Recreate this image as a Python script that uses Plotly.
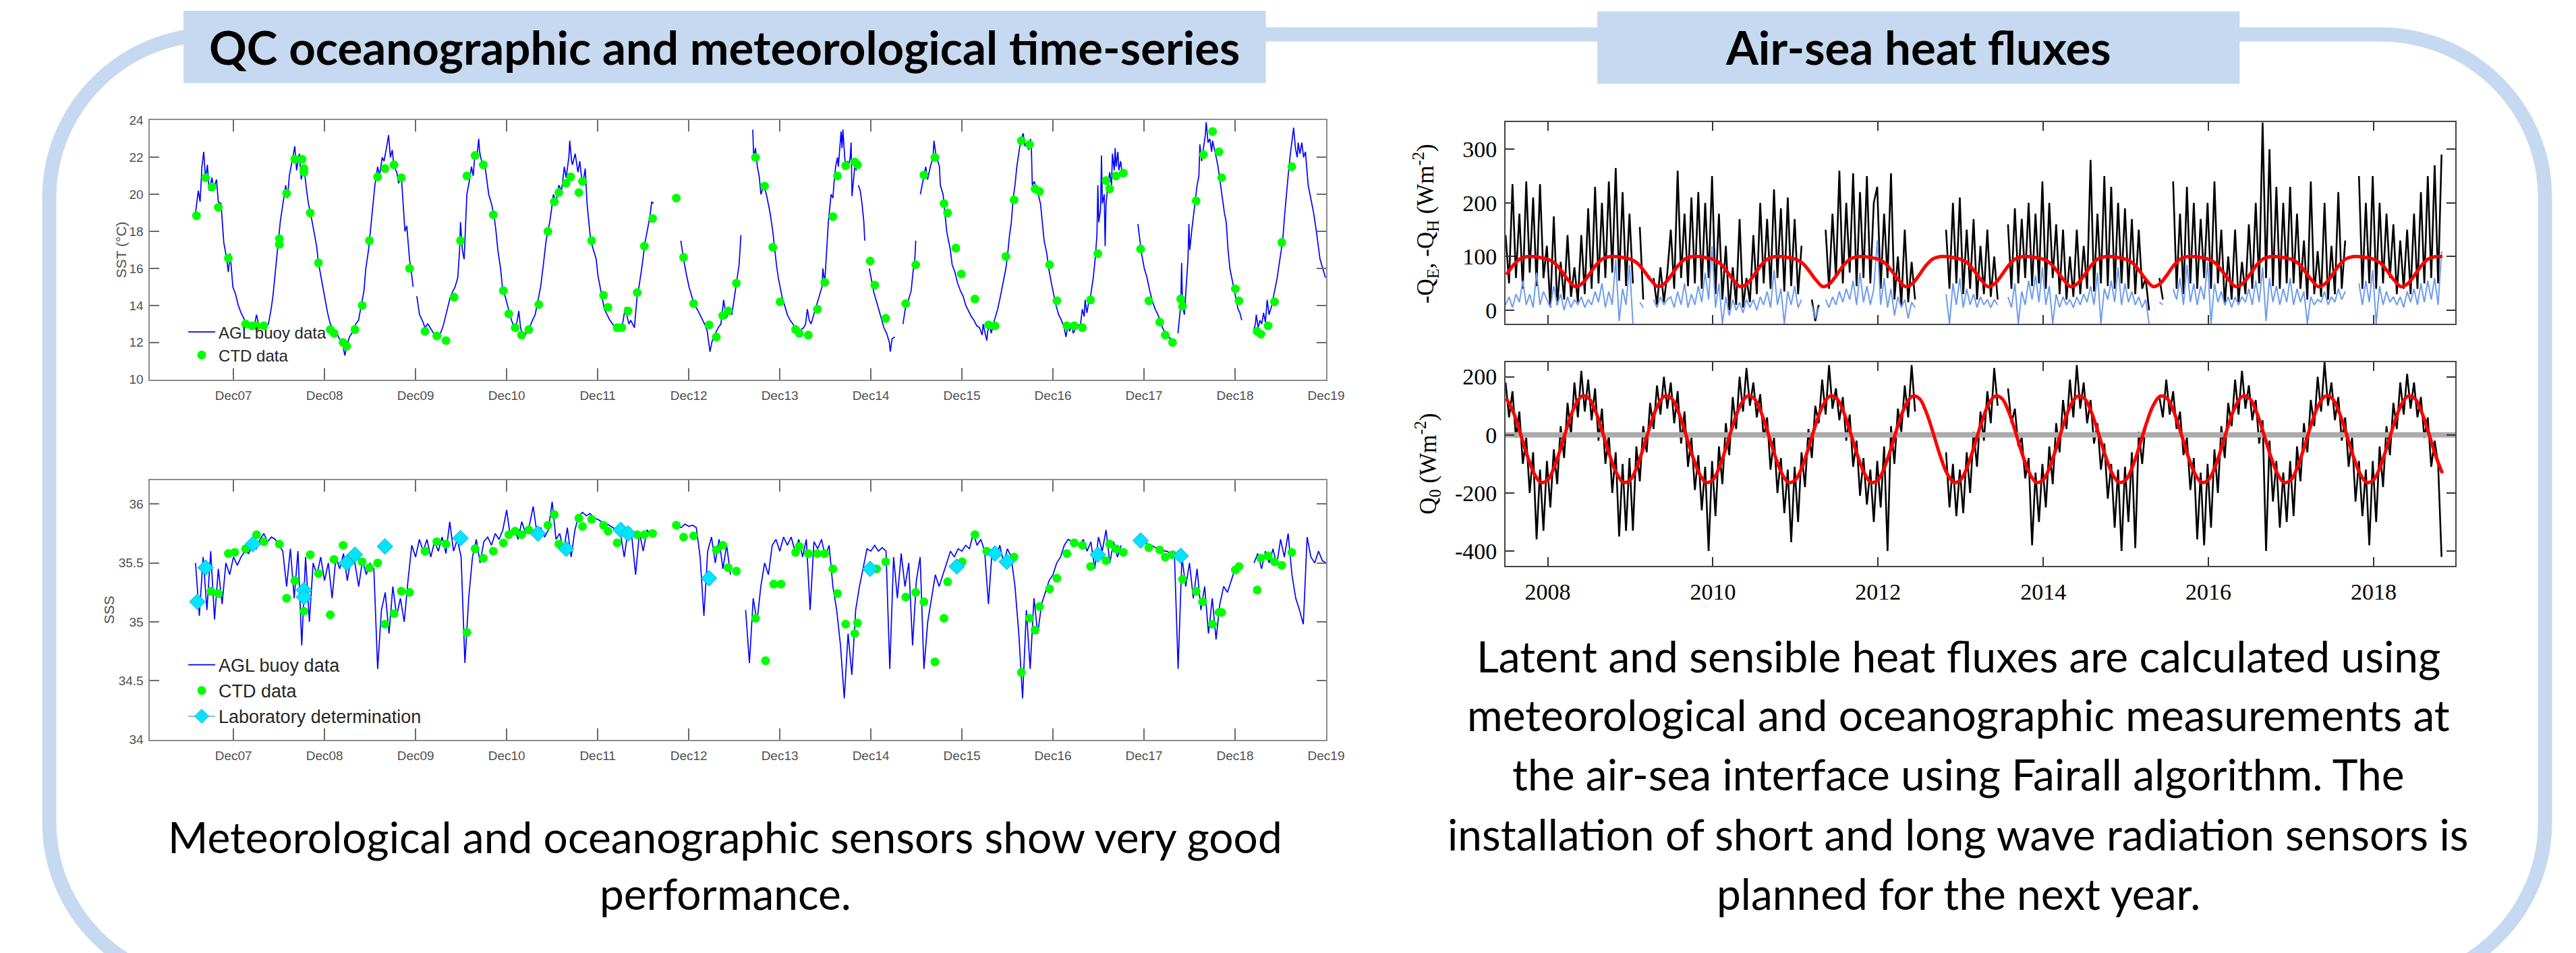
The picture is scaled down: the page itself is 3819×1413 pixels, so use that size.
import plotly.graph_objects as go

W, H = 3819, 1413

# ------------------------------------------------------------------ tick labels
DEC_TICKS = [2007.917, 2008.917, 2009.917, 2010.917, 2011.917, 2012.917, 2013.917,
             2014.917, 2015.917, 2016.917, 2017.917, 2018.917, 2019.917]
DEC_LABELS = ["Dec07", "Dec08", "Dec09", "Dec10", "Dec11", "Dec12", "Dec13",
              "Dec14", "Dec15", "Dec16", "Dec17", "Dec18", "Dec19"]
SST_TICKS = [10, 12, 14, 16, 18, 20, 22, 24]
SSS_TICKS = [34, 34.5, 35, 35.5, 36]
SSS_TICK_TEXT = ["34", "34.5", "35", "35.5", "36"]
YEAR_TICKS = [2008, 2010, 2012, 2014, 2016, 2018]
FLUX_TICKS = [0, 100, 200, 300]
Q0_TICKS = [-400, -200, 0, 200]

# ------------------------------------------------------------------ SST (decimal year, degC)
SST_BUOY = [
    (2007.50, 19.0), (2007.53, 20.2), (2007.55, 19.6), (2007.57, 21.5), (2007.59, 22.3), (2007.61, 20.8),
    (2007.63, 21.6), (2007.65, 20.2), (2007.68, 20.9), (2007.70, 20.3), (2007.73, 20.8), (2007.75, 19.6),
    (2007.78, 19.5), (2007.81, 17.4), (2007.84, 16.6), (2007.86, 15.8), (2007.88, 16.8), (2007.91, 15.0),
    (2007.94, 14.6), (2007.97, 14.0), (2008.00, 13.6), (2008.04, 13.2), (2008.07, 13.0), (2008.10, 12.9),
    (2008.14, 12.8), (2008.17, 13.5), (2008.20, 12.8), (2008.23, 12.9), (2008.27, 12.8), (2008.30, 13.0),
    (2008.33, 13.8), (2008.35, 14.5), (2008.38, 16.0), (2008.40, 17.0), (2008.43, 18.5), (2008.46, 19.5),
    (2008.49, 20.5), (2008.51, 19.8), (2008.53, 21.0), (2008.56, 21.8), (2008.59, 22.6), (2008.61, 21.3),
    (2008.64, 22.2), (2008.66, 20.8), (2008.69, 21.5), (2008.72, 20.2), (2008.74, 19.5), (2008.77, 18.8),
    (2008.80, 18.0), (2008.83, 17.2), (2008.85, 16.3), (2008.88, 15.5), (2008.92, 14.3), (2008.95, 13.6),
    (2008.98, 13.0), (2009.01, 12.8), (2009.05, 12.5), (2009.08, 12.2), (2009.11, 12.0), (2009.14, 11.3),
    (2009.16, 11.8), (2009.19, 12.3), (2009.23, 12.6), (2009.26, 13.0), (2009.29, 13.2), (2009.32, 14.0),
    (2009.35, 14.8), (2009.37, 16.0), (2009.40, 17.0), (2009.42, 18.0), (2009.45, 19.5), (2009.47, 20.5),
    (2009.50, 21.5), (2009.52, 21.0), (2009.55, 22.0), (2009.57, 21.8), (2009.60, 22.6), (2009.62, 23.2),
    (2009.64, 22.0), (2009.66, 22.4), (2009.68, 21.5), (2009.71, 21.2), (2009.73, 20.6), (2009.76, 21.0),
    (2009.78, 19.5), (2009.80, 18.0), (2009.82, 18.3), (2009.85, 16.5), (2009.87, 15.8), (2009.89, 15.0),
    (None, None),
    (2009.93, 14.5), (2009.96, 13.5), (2009.99, 13.2), (2010.02, 12.8), (2010.05, 13.0), (2010.09, 12.7),
    (2010.12, 12.5), (2010.14, 12.3), (2010.17, 12.4), (2010.19, 12.5), (2010.22, 12.9), (2010.25, 13.5),
    (2010.28, 14.0), (2010.30, 14.5), (2010.33, 14.8), (2010.35, 15.0), (2010.38, 15.5), (2010.40, 17.0),
    (2010.41, 18.5), (2010.43, 17.0), (2010.45, 16.5), (2010.47, 18.5), (2010.48, 20.0), (2010.51, 20.8),
    (2010.53, 21.5), (2010.55, 21.0), (2010.57, 22.3), (2010.59, 22.0), (2010.61, 23.0), (2010.62, 22.3),
    (2010.65, 21.6), (2010.68, 21.5), (2010.70, 20.8), (2010.72, 20.0), (2010.75, 19.5), (2010.78, 18.8),
    (2010.80, 18.0), (2010.82, 17.0), (2010.85, 16.0), (2010.87, 15.0), (2010.90, 14.5), (2010.94, 13.8),
    (2010.97, 13.2), (2011.00, 12.8), (2011.03, 13.1), (2011.05, 13.7), (2011.07, 12.8), (2011.10, 12.2),
    (2011.13, 12.5), (2011.16, 12.7), (2011.20, 13.2), (2011.23, 13.5), (2011.26, 14.2), (2011.29, 15.0),
    (2011.32, 16.2), (2011.35, 17.5), (2011.37, 18.0), (2011.39, 18.5), (2011.41, 19.2), (2011.43, 20.0),
    (2011.46, 19.6), (2011.49, 20.5), (2011.52, 20.2), (2011.55, 21.5), (2011.57, 20.9), (2011.60, 22.0),
    (2011.61, 22.9), (2011.63, 21.8), (2011.64, 21.6), (2011.67, 22.2), (2011.70, 21.2), (2011.72, 21.8),
    (2011.74, 20.9), (2011.76, 20.8), (2011.78, 21.4), (2011.80, 19.5), (2011.82, 18.5), (2011.84, 17.5),
    (2011.87, 17.0), (2011.90, 16.5), (2011.92, 15.6), (2011.95, 14.8), (2011.99, 13.8), (2012.02, 13.5),
    (2012.05, 13.2), (2012.08, 13.0), (2012.11, 12.8), (2012.14, 12.7), (2012.16, 12.8), (2012.19, 13.0),
    (2012.22, 13.9), (2012.24, 13.4), (2012.26, 13.0), (2012.28, 13.2), (2012.30, 13.0), (2012.32, 12.8),
    (2012.35, 14.5), (2012.37, 15.0), (2012.40, 16.0), (2012.42, 16.8), (2012.44, 17.5), (2012.46, 18.0),
    (2012.49, 18.8), (2012.51, 19.6), (2012.53, 19.5),
    (None, None),
    (2012.83, 17.5), (2012.86, 16.5), (2012.89, 15.7), (2012.92, 15.0), (2012.95, 14.5), (2012.98, 14.0),
    (2013.01, 13.8), (2013.04, 13.5), (2013.07, 13.2), (2013.10, 12.9), (2013.12, 12.6), (2013.15, 11.5),
    (2013.17, 12.0), (2013.19, 12.3), (2013.21, 12.5), (2013.24, 12.8), (2013.27, 13.0), (2013.30, 14.3),
    (2013.33, 13.3), (2013.36, 13.8), (2013.39, 13.5), (2013.42, 14.5), (2013.45, 15.5), (2013.47, 16.2),
    (2013.49, 17.8),
    (None, None),
    (2013.62, 23.5), (2013.63, 22.0), (2013.65, 22.5), (2013.67, 21.5), (2013.69, 21.0), (2013.71, 20.0),
    (2013.74, 20.5), (2013.77, 20.0), (2013.79, 19.5), (2013.81, 19.0), (2013.84, 18.0), (2013.86, 17.0),
    (2013.88, 16.2), (2013.90, 15.5), (2013.92, 15.0), (2013.94, 14.5), (2013.97, 14.0), (2014.00, 13.5),
    (2014.03, 13.2), (2014.06, 13.0), (2014.09, 12.8), (2014.12, 12.5), (2014.15, 12.7), (2014.18, 12.8),
    (2014.20, 13.0), (2014.22, 13.8), (2014.24, 13.2), (2014.26, 13.0), (2014.29, 13.5), (2014.32, 14.0),
    (2014.35, 14.5), (2014.38, 15.0), (2014.39, 16.0), (2014.41, 15.2), (2014.42, 16.0), (2014.44, 17.5),
    (2014.45, 18.5), (2014.47, 19.5), (2014.48, 20.0), (2014.50, 19.8), (2014.51, 20.5), (2014.53, 21.5),
    (2014.55, 22.0), (2014.56, 21.5), (2014.58, 23.0), (2014.59, 23.4), (2014.60, 22.5), (2014.61, 23.5),
    (2014.63, 22.0), (2014.64, 21.5), (2014.66, 21.8), (2014.67, 21.5), (2014.69, 22.0), (2014.70, 22.8),
    (2014.71, 19.9), (2014.73, 21.0), (2014.74, 21.5), (2014.76, 21.3),
    (None, None),
    (2014.78, 20.5), (2014.80, 20.2), (2014.82, 19.5), (2014.84, 18.5), (2014.85, 17.5),
    (None, None),
    (2014.90, 16.0), (2014.93, 15.2), (2014.95, 14.7), (2014.98, 14.2), (2015.01, 13.7), (2015.04, 13.2),
    (2015.06, 12.8), (2015.09, 12.5), (2015.12, 12.0), (2015.13, 11.5), (2015.15, 12.2), (2015.18, 12.3),
    (None, None),
    (2015.27, 13.0), (2015.30, 14.0), (2015.33, 14.3), (2015.36, 14.8), (2015.38, 15.8), (2015.40, 16.5),
    (2015.41, 17.5),
    (None, None),
    (2015.46, 20.0), (2015.48, 20.5), (2015.50, 21.0), (2015.52, 21.5), (2015.54, 20.8), (2015.57, 21.5),
    (2015.60, 22.0), (2015.61, 22.9), (2015.63, 22.2), (2015.65, 21.8), (2015.67, 21.5), (2015.68, 20.5),
    (2015.71, 20.0), (2015.73, 19.0), (2015.75, 18.0), (2015.77, 17.5), (2015.79, 17.0), (2015.81, 16.2),
    (2015.84, 15.8), (2015.87, 15.2), (2015.90, 14.8), (2015.93, 14.5), (2015.96, 14.0), (2015.99, 13.7),
    (2016.02, 13.4), (2016.05, 13.2), (2016.08, 12.9), (2016.11, 12.8), (2016.14, 12.4), (2016.15, 13.0),
    (2016.17, 12.5), (2016.19, 12.1), (2016.20, 12.6), (2016.22, 12.9), (2016.24, 12.5), (2016.26, 13.0),
    (2016.28, 13.3), (2016.31, 13.8), (2016.34, 14.5), (2016.37, 15.2), (2016.40, 16.0), (2016.42, 16.8),
    (2016.44, 17.8), (2016.46, 18.5), (2016.48, 19.8), (2016.50, 20.5), (2016.52, 21.5), (2016.55, 22.5),
    (2016.57, 23.0), (2016.59, 23.3), (2016.61, 22.6), (2016.63, 22.8), (2016.65, 22.4), (2016.67, 23.0),
    (2016.68, 22.5), (2016.69, 20.5), (2016.71, 20.7), (2016.74, 20.3), (2016.76, 19.9), (2016.78, 19.5),
    (2016.80, 18.5), (2016.82, 17.5), (2016.85, 16.8), (2016.87, 16.0), (2016.90, 15.2), (2016.93, 14.5),
    (2016.95, 14.0), (2016.98, 13.5), (2017.01, 13.2), (2017.04, 12.8), (2017.06, 12.3), (2017.08, 12.9),
    (2017.10, 12.6), (2017.12, 13.0), (2017.14, 12.5), (2017.16, 12.7), (2017.19, 12.9), (2017.22, 13.0),
    (2017.24, 13.8), (2017.26, 13.4), (2017.27, 14.3), (2017.29, 13.6), (2017.31, 14.2), (2017.33, 14.5),
    (2017.36, 15.5), (2017.38, 16.5), (2017.40, 17.8), (2017.41, 20.5), (2017.42, 18.5), (2017.44, 19.2),
    (2017.45, 22.1), (2017.46, 19.5), (2017.48, 20.0), (2017.49, 17.2), (2017.50, 19.5), (2017.52, 20.5),
    (2017.54, 21.2), (2017.56, 20.5), (2017.57, 22.2), (2017.59, 21.3), (2017.60, 22.5), (2017.61, 21.5),
    (2017.63, 22.3), (2017.64, 21.3), (2017.66, 21.8), (2017.68, 21.0), (2017.70, 21.2),
    (None, None),
    (2017.85, 18.4), (2017.87, 17.5), (2017.89, 16.8), (2017.92, 16.0), (2017.95, 15.5), (2017.98, 14.8),
    (2018.01, 14.2), (2018.04, 13.8), (2018.07, 13.5), (2018.10, 13.1), (2018.12, 12.8), (2018.15, 12.5),
    (2018.18, 12.3), (2018.21, 12.2),
    (None, None),
    (2018.29, 12.5), (2018.31, 13.5), (2018.32, 14.0), (2018.33, 16.3), (2018.34, 14.0), (2018.36, 13.5),
    (2018.38, 15.0), (2018.40, 16.5), (2018.41, 18.4), (2018.42, 17.0), (2018.44, 18.0), (2018.46, 18.8),
    (2018.48, 19.5), (2018.50, 20.5), (2018.52, 21.0), (2018.53, 22.7), (2018.55, 21.8), (2018.57, 22.5),
    (2018.59, 23.2), (2018.60, 23.9), (2018.62, 22.8), (2018.64, 23.0), (2018.66, 22.3), (2018.67, 22.9),
    (2018.69, 22.5), (2018.71, 22.0), (2018.73, 21.5), (2018.75, 20.8), (2018.78, 19.8), (2018.80, 19.0),
    (2018.82, 18.5), (2018.84, 17.0), (2018.86, 16.0), (2018.88, 15.5), (2018.91, 14.8), (2018.93, 14.3),
    (2018.95, 13.8), (2018.97, 13.6), (2018.99, 13.2),
    (None, None),
    (2019.12, 12.6), (2019.14, 13.0), (2019.15, 13.5), (2019.17, 12.8), (2019.19, 13.2), (2019.21, 13.0),
    (2019.23, 13.6), (2019.25, 13.1), (2019.27, 14.3), (2019.29, 13.5), (2019.32, 14.0), (2019.35, 14.8),
    (2019.38, 15.5), (2019.40, 16.2), (2019.42, 16.8), (2019.44, 17.5), (2019.46, 18.8), (2019.48, 20.0),
    (2019.50, 21.0), (2019.52, 22.0), (2019.54, 22.8), (2019.56, 23.6), (2019.58, 22.5), (2019.60, 22.0),
    (2019.61, 22.8), (2019.63, 22.2), (2019.65, 22.8), (2019.67, 22.0), (2019.69, 22.3), (2019.71, 21.2),
    (2019.72, 20.5), (2019.74, 20.0), (2019.76, 19.5), (2019.78, 19.0), (2019.81, 18.0), (2019.83, 17.3),
    (2019.85, 16.5), (2019.88, 16.0), (2019.91, 15.5),
]

SST_CTD = [
    (2007.51, 18.85), (2007.61, 20.9), (2007.68, 20.4), (2007.75, 19.3), (2007.86, 16.55), (2008.05, 13.0),
    (2008.12, 12.9), (2008.17, 12.9), (2008.25, 12.9), (2008.42, 17.6), (2008.42, 17.3), (2008.50, 20.05),
    (2008.59, 21.9), (2008.67, 21.9), (2008.69, 21.4), (2008.69, 21.2), (2008.76, 19.0), (2008.85, 16.3),
    (2008.98, 12.7), (2009.02, 12.5), (2009.12, 12.0), (2009.16, 11.8), (2009.25, 12.7), (2009.33, 14.0),
    (2009.41, 17.5), (2009.50, 20.95), (2009.58, 21.4), (2009.68, 21.6), (2009.76, 20.9), (2009.85, 16.0),
    (2010.02, 12.6), (2010.15, 12.35), (2010.25, 12.1), (2010.34, 14.45), (2010.41, 17.5), (2010.48, 21.0),
    (2010.57, 22.1), (2010.66, 21.6), (2010.77, 18.9), (2010.88, 14.8), (2010.94, 13.55), (2011.01, 12.8),
    (2011.08, 12.4), (2011.16, 12.7), (2011.27, 14.05), (2011.37, 18.0), (2011.44, 19.6), (2011.49, 20.1),
    (2011.57, 20.6), (2011.62, 20.95), (2011.71, 20.1), (2011.75, 20.7), (2011.85, 17.5), (2011.98, 14.55),
    (2012.03, 13.9), (2012.13, 12.8), (2012.18, 12.8), (2012.25, 13.7), (2012.35, 14.7), (2012.43, 17.2),
    (2012.52, 18.7), (2012.78, 19.8), (2012.86, 16.6), (2012.97, 14.1), (2013.14, 12.95), (2013.22, 12.3),
    (2013.29, 13.45), (2013.35, 13.7), (2013.44, 15.2), (2013.65, 22.0), (2013.75, 20.45), (2013.84, 17.15),
    (2013.92, 14.2), (2014.09, 12.7), (2014.13, 12.5), (2014.23, 12.4), (2014.33, 13.8), (2014.41, 15.25),
    (2014.50, 18.8), (2014.55, 21.0), (2014.64, 21.55), (2014.74, 21.75), (2014.77, 21.6), (2014.91, 16.4),
    (2014.96, 15.1), (2015.08, 13.3), (2015.30, 14.1), (2015.41, 16.2), (2015.50, 21.05), (2015.62, 22.0),
    (2015.72, 19.5), (2015.76, 19.0), (2015.85, 17.1), (2015.91, 15.7), (2016.06, 14.35), (2016.21, 12.95),
    (2016.28, 12.9), (2016.40, 16.65), (2016.49, 19.7), (2016.57, 22.9), (2016.66, 22.7), (2016.72, 20.3),
    (2016.77, 20.15), (2016.88, 16.2), (2016.96, 14.25), (2017.07, 12.9), (2017.15, 12.9), (2017.24, 12.8),
    (2017.33, 14.3), (2017.41, 16.8), (2017.50, 20.75), (2017.54, 20.3), (2017.61, 21.0), (2017.69, 21.15),
    (2017.88, 17.05), (2017.97, 14.25), (2018.09, 13.1), (2018.15, 12.4), (2018.23, 12.0), (2018.32, 14.35),
    (2018.34, 13.95), (2018.49, 19.65), (2018.57, 22.15), (2018.67, 23.4), (2018.74, 22.3), (2018.77, 20.9),
    (2018.92, 14.9), (2018.96, 14.25), (2019.16, 12.6), (2019.20, 12.45), (2019.28, 12.9), (2019.35, 14.2),
    (2019.43, 17.4), (2019.54, 21.5),
]

# ------------------------------------------------------------------ SSS
SSS_BUOY_START = 2007.50          # one reading every half month
SSS_BUOY = [
    35.50, 35.05, 35.55, 35.10, 35.60, 35.02, 35.45, 35.15, 35.50, 35.40, 35.55, 35.48,
    35.55, 35.60, 35.58, 35.65, 35.62, 35.70, 35.75, 35.68, 35.72, 35.70, 35.65, 35.60,
    35.30, 35.62, 35.20, 35.60, 34.80, 35.55, 35.00, 35.50, 35.40, 35.55, 35.35, 35.50,
    35.20, 35.55, 35.45, 35.58, 35.35, 35.55, 35.50, 35.30, 35.52, 35.40, 35.50, 35.45,
    34.60, 35.10, 35.25, 34.90, 35.30, 35.05, 35.20, 35.00, 35.35, 35.65, 35.55, 35.70,
    35.60, 35.70, 35.55, 35.68, 35.60, 35.72, 35.58, 35.85, 35.60, 35.70, 35.55, 34.65,
    35.20, 35.55, 35.70, 35.50, 35.68, 35.72, 35.65, 35.75, 35.70, 35.78, 35.95, 35.72,
    35.80, 35.70, 35.85, 35.75, 35.82, 35.98, 35.75, 35.80, 35.72, 35.78, 36.02, 35.70,
    35.75, 35.60, 35.80, 35.55, 35.78, 35.90, 35.93, 35.90, 35.92, 35.88, 35.87, 35.85,
    35.84, 35.82, 35.80, 35.78, 35.75, 35.55, 35.78, 35.72, 35.40, 35.76, 35.60, 35.78,
    35.74, None, None, None, None, None, None, 35.82, 35.80, 35.83, 35.81, 35.82,
    35.80, 35.55, 35.05, 35.60, 35.72, 35.50, 35.70, 35.45, 35.65, 35.40, None, None,
    None, 35.10, 34.65, 35.20, 35.00, 35.30, 35.50, 35.40, 35.65, 35.70, 35.60, 35.72,
    35.65, 35.72, 35.60, 35.70, 35.55, 35.70, 35.10, 35.68, 35.62, 35.70, 35.55, 35.65,
    35.30, 35.10, 34.80, 34.35, 34.90, 34.55, 35.10, 35.30, 35.45, 35.62, 35.60, 35.65,
    35.60, 35.63, 35.60, 34.60, 35.55, 35.20, 35.58, 35.30, 35.50, 34.80, 35.35, 35.55,
    34.60, 35.00, 35.20, 35.40, 35.30, 35.40, 35.50, 35.60, 35.55, 35.62, 35.60, 35.65,
    35.62, 35.75, 35.65, 35.70, 35.60, 35.15, 35.62, 35.55, 35.65, 35.50, 35.62, 35.55,
    35.30, 34.90, 34.35, 35.10, 34.60, 35.20, 34.90, 35.15, 35.25, 35.35, 35.40, 35.50,
    35.55, 35.65, 35.70, 35.68, 35.70, 35.65, 35.70, 35.60, 35.68, 35.45, 35.72, 35.60,
    35.78, 35.50, 35.68, 35.55, 35.65, None, None, None, 35.72, 35.70, 35.68, 35.66,
    35.65, 35.63, 35.62, 35.60, 35.60, 35.58, 35.60, 34.60, 35.55, 35.30, 35.50, 35.20,
    35.45, 35.10, 35.30, 34.90, 35.20, 34.85, 35.15, 35.30, 35.25, 35.35, 35.45, 35.50,
    None, None, None, 35.50, 35.58, 35.45, 35.60, 35.50, 35.62, 35.48, 35.70, 35.55,
    35.75, 35.40, 35.20, 35.10, 34.98, 35.72, 35.55, 35.50, 35.60, 35.52, 35.50,
]

SSS_CTD = [
    (2007.67, 35.26), (2007.75, 35.24), (2007.86, 35.58), (2007.93, 35.59), (2008.05, 35.62), (2008.17, 35.74),
    (2008.25, 35.68), (2008.42, 35.66), (2008.50, 35.20), (2008.59, 35.35), (2008.69, 35.09), (2008.76, 35.57),
    (2008.85, 35.41), (2008.98, 35.06), (2009.02, 35.53), (2009.12, 35.65), (2009.33, 35.51), (2009.41, 35.46),
    (2009.50, 35.50), (2009.58, 34.98), (2009.68, 35.07), (2009.76, 35.26), (2009.85, 35.25), (2010.02, 35.60),
    (2010.15, 35.68), (2010.25, 35.66), (2010.48, 34.91), (2010.57, 35.62), (2010.66, 35.54), (2010.77, 35.60),
    (2010.88, 35.67), (2010.94, 35.74), (2011.01, 35.77), (2011.08, 35.74), (2011.16, 35.78), (2011.37, 35.82),
    (2011.44, 35.91), (2011.49, 35.66), (2011.71, 35.88), (2011.75, 35.81), (2011.85, 35.87), (2011.98, 35.82),
    (2012.03, 35.77), (2012.13, 35.67), (2012.35, 35.74), (2012.43, 35.74), (2012.52, 35.75), (2012.78, 35.82),
    (2012.86, 35.72), (2012.97, 35.73), (2013.22, 35.61), (2013.29, 35.65), (2013.35, 35.46), (2013.44, 35.43),
    (2013.65, 35.03), (2013.76, 34.67), (2013.85, 35.32), (2013.93, 35.32), (2014.09, 35.59), (2014.13, 35.64),
    (2014.23, 35.58), (2014.33, 35.58), (2014.41, 35.58), (2014.50, 35.45), (2014.55, 35.24), (2014.64, 34.98),
    (2014.74, 34.90), (2014.77, 34.99), (2014.98, 35.45), (2015.08, 35.51), (2015.30, 35.21), (2015.41, 35.25),
    (2015.50, 35.17), (2015.62, 34.66), (2015.72, 35.03), (2015.76, 35.34), (2015.92, 35.51), (2016.06, 35.74),
    (2016.19, 35.60), (2016.49, 35.55), (2016.57, 34.57), (2016.66, 35.03), (2016.72, 34.93), (2016.77, 35.13),
    (2016.88, 35.28), (2016.96, 35.37), (2017.07, 35.58), (2017.15, 35.67), (2017.24, 35.65), (2017.33, 35.47),
    (2017.50, 35.52), (2017.54, 35.66), (2017.61, 35.62), (2017.69, 35.59), (2017.97, 35.63), (2018.09, 35.61),
    (2018.15, 35.55), (2018.23, 35.57), (2018.34, 35.36), (2018.49, 35.26), (2018.56, 35.17), (2018.67, 34.98),
    (2018.74, 35.08), (2018.77, 35.08), (2018.92, 35.44), (2018.96, 35.47), (2019.16, 35.27), (2019.20, 35.54),
    (2019.28, 35.56), (2019.35, 35.51), (2019.43, 35.48), (2019.54, 35.59),
]

SSS_LAB = [
    (2007.52, 35.17), (2007.61, 35.46), (2008.13, 35.66), (2008.69, 35.27), (2008.69, 35.21), (2009.16, 35.50),
    (2009.25, 35.57), (2009.58, 35.64), (2010.41, 35.71), (2011.26, 35.75), (2011.57, 35.62), (2012.17, 35.78),
    (2012.25, 35.75), (2013.14, 35.37), (2014.91, 35.45), (2015.86, 35.47), (2016.28, 35.58), (2016.41, 35.51),
    (2017.41, 35.57), (2017.88, 35.69), (2018.32, 35.56),
]

# ------------------------------------------------------------------ heat fluxes (W m-2), half-monthly readings
FLUX_START = 2007.49
LATENT = [
    140, 50, 235, 60, 180, 40, 240, 70, 210, 45, 235, 60,
    120, 5, 175, 10, 90, 20, 140, 25, 80, 15, 140, 30, 190, 40, 230, 50, 200, 60, 240, 70, 265, 55, 220, 45,
    180, 50, None, 155, 20, None, None, 60, 10, 80, 15, 70, 150, 40, 260, 60, 180, 45, 210, 50, 220, 40, 200, 60,
    250, 30, 180, 20, 120, 0, 80, 10, 170, 5, 60, 15, 140, 30, 200, 50, 170, 40, 225, 60, 190, 35, 210, 45,
    170, 30, 120, None, None, 20, -20, 10, None, 150, 40, 180, 60, 260, 50, 200, 70, 255, 45, 220, 60, 250, 50, 200,
    230, 40, 180, 60, 255, 20, 100, 10, 150, 15, 90, 20, None, None, None, None, None, None, None, None, 150, 40, 200, 50,
    210, 30, 150, 40, 170, 20, 120, 30, 150, 25, 100, 20, None, None, 160, 40, 190, 50, 170, 60, 200, 45, 180, 50,
    240, 40, 200, 60, 160, 30, 150, 20, 100, 25, 150, 30, 120, 40, 280, 35, 180, 50, 250, 45, 230, 40, 200, 50,
    190, 40, 170, 30, 150, 40, 60, 0, None, None, 60, 20, None, None, 240, 40, 180, 30, 230, 50, 200, 40, 170, 60,
    200, 40, 240, 50, 150, 10, 100, 20, 150, 15, 90, 30, 160, 40, 200, 50, 350, 60, 300, 45, 230, 40, 200, 50,
    230, 50, 180, 40, 130, 20, 240, 30, 110, 25, 200, 20, 120, 30, 220, 40, 130, None, None, None, 250, 40, 200, 50,
    250, 40, 200, 50, 180, 60, 160, 30, 130, 40, 150, 30, 180, 40, 220, 50, 250, 60, 270, 50, 290,
]
SENSIBLE = [
    10, 25, 5, 30, 15, 55, 10, 30, 5, 70, 10, 35,
    20, 5, 45, 10, 30, 0, 25, 5, 20, 10, 25, 5, 20, 10, 35, 15, 50, 5, 35, 10, 95, -20, 40, 10,
    85, -25, None, 15, 5, None, None, 20, 5, 25, 10, 20, 25, 5, 35, 10, 50, 5, 30, 10, 45, 15, 70, 20,
    120, 5, 50, -25, 25, -10, 20, 0, 15, -5, 20, 5, 20, 0, 25, 10, 35, 5, 75, 10, 40, -25, 35, 10,
    45, 5, 20, None, None, 10, -15, 5, None, 20, 5, 25, 10, 35, 15, 40, 20, 55, 10, 70, 15, 45, 10, 40,
    130, 10, 60, 5, 40, -10, 25, 5, 20, -15, 15, 5, None, None, None, None, None, None, None, None, 30, -25, 50, 10,
    60, 5, 40, 10, 30, 5, 25, 10, 20, 5, 20, 10, None, None, 25, 5, 50, -25, 35, 10, 55, 20, 65, 15,
    80, 10, 45, -25, 30, 5, 25, 10, 20, 5, 25, 10, 30, 15, 45, 10, 70, -25, 40, 20, 55, 15, 80, 10,
    50, 15, 35, 10, 25, 5, 20, -25, None, None, 15, 10, None, None, 40, 20, 60, 10, 85, 15, 50, 10, 45, 20,
    90, -25, 50, 15, 35, 10, 25, 5, 25, 10, 25, 15, 40, 10, 55, 15, 80, -20, 60, 15, 45, 10, 40, 15,
    60, 10, 40, 15, 35, -25, 25, 10, 20, 15, 35, 10, 25, 15, 40, 20, 35, None, None, None, 50, 10, 55, 15,
    75, -25, 45, 10, 35, 15, 25, 10, 25, 5, 35, 15, 40, 10, 50, 15, 55, 20, 60, 10, 110,
]
NET_Q0 = [
    180, 60, 150, -10, 80, -100, -10, -200, -60, -360, -120, -330,
    -90, -250, -50, -170, 30, -80, 110, 0, 180, 60, 220, 80, 190, 50, 160, -20, 90, -100, 0, -200, -60, -350, -100, -330,
    -80, -330, -40, -160, 30, -60, 110, 20, 170, 70, 200, 90, 180, 40, 150, -30, 80, -110, -10, -190, -70, -260, -110, -400,
    -90, -280, -40, -170, 40, -70, 130, 20, 200, 80, 230, 100, 180, 60, 140, -10, 60, -120, -10, -200, -80, -270, -120, -370,
    -110, -300, -60, -180, 20, -80, 100, 40, 190, 70, 240, 90, 160, 50, 130, -20, 70, -110, -20, -210, -80, -240, -120, -300,
    -90, -250, -40, -400, 30, -100, 90, 10, 170, 60, 240, 80, None, None, None, None, None, None, None, None, -60, -250, -100, -280,
    -120, -270, -60, -200, 10, -110, 80, -20, 150, 40, 230, 100, None, None, 160, 40, 90, -40, -10, -150, -80, -380, -130, -300,
    -100, -250, -40, -170, 40, -60, 120, 20, 190, 60, 240, 90, 180, 40, 120, -30, 40, -120, -30, -220, -100, -320, -120, -400,
    -110, -300, -60, -390, 10, -100, 40, None, None, None, 130, 60, 190, 70, 150, 20, 80, -70, -10, -190, -80, -360, -130, -380,
    -100, -320, -50, -200, 30, -80, 110, 30, 190, 70, 220, 90, 170, 50, 120, -30, 50, -400, -20, -230, -90, -320, -130, -300,
    -90, -280, -40, -160, 40, -60, 120, 30, 200, 80, 250, 100, 180, 50, 130, -20, 60, -110, -10, -230, -90, -280, -120, -380,
    -90, -300, -40, -180, 30, -70, 110, 20, 180, 70, 210, 90, 180, 60, 130, -10, 60, -110, -20, -100, -420,
]

# seasonal fits, monthly readings from mid-2007
FIT_START = 2007.5
FIT_TURB = [
    66, 84, 96, 100, 100, 98,
    95, 88, 73, 56, 44, 50, 66, 84, 96, 100, 100, 98,
    95, 88, 73, 56, 44, 50, 66, 84, 96, 100, 100, 98,
    95, 88, 73, 56, 44, 50, 66, 84, 96, 100, 100, 98,
    95, 88, 73, 56, 44, 50, 66, 84, 96, 100, 100, 98,
    95, 88, 73, 56, 44, 50, 66, 84, 96, 100, 100, 98,
    95, 88, 73, 56, 44, 50, 66, 84, 96, 100, 100, 98,
    95, 88, 73, 56, 44, 50, 66, 84, 96, 100, 100, 98,
    95, 88, 73, 56, 44, 50, 66, 84, 96, 100, 100, 98,
    95, 88, 73, 56, 44, 50, 66, 84, 96, 100, 100, 98,
    95, 88, 73, 56, 44, 50, 66, 84, 96, 100, 100, 98,
    95, 88, 73, 56, 44, 50, 66, 84, 96, 100, 100,
]
FIT_Q0 = [
    125, 78, 7, -70, -132, -164,
    -155, -108, -37, 40, 102, 133, 125, 78, 7, -70, -132, -164,
    -155, -108, -37, 40, 102, 133, 125, 78, 7, -70, -132, -164,
    -155, -108, -37, 40, 102, 133, 125, 78, 7, -70, -132, -164,
    -155, -108, -37, 40, 102, 133, 125, 78, 7, -70, -132, -164,
    -155, -108, -37, 40, 102, 133, 125, 78, 7, -70, -132, -164,
    -155, -108, -37, 40, 102, 133, 125, 78, 7, -70, -132, -164,
    -155, -108, -37, 40, 102, 133, 125, 78, 7, -70, -132, -164,
    -155, -108, -37, 40, 102, 133, 125, 78, 7, -70, -132, -164,
    -155, -108, -37, 40, 102, 133, 125, 78, 7, -70, -132, -164,
    -155, -108, -37, 40, 102, 133, 125, 78, 7, -70, -132, -164,
    -155, -108, -37, 40, 102, 133, 125, 78, 7, -70, -132,
]
ZERO_LINE = [0, 0]

# ------------------------------------------------------------------ texts
TITLE_LEFT = "QC oceanographic and meteorological time-series"
TITLE_RIGHT = "Air-sea heat fluxes"
TEXT_LEFT = ["Meteorological and oceanographic sensors show very good", "performance."]
TEXT_RIGHT = ["Latent and sensible heat fluxes are calculated using",
              "meteorological and oceanographic measurements at",
              "the air-sea interface using Fairall algorithm. The",
              "installation of short and long wave radiation sensors is",
              "planned for the next year."]

# ------------------------------------------------------------------ helpers
def fx(p):
    return p / W


def fy(p):
    return 1 - p / H


def unzip(pairs):
    return [p[0] for p in pairs], [p[1] for p in pairs]


def grid(start, step, n):
    return [start + i * step for i in range(n)]


sst_t, sst_v = unzip(SST_BUOY)
sstc_t, sstc_v = unzip(SST_CTD)
sssc_t, sssc_v = unzip(SSS_CTD)
sssl_t, sssl_v = unzip(SSS_LAB)
sss_t = grid(SSS_BUOY_START, 1 / 24, len(SSS_BUOY))
flux_t = grid(FLUX_START, 1 / 24, len(LATENT))
fit_t = grid(FIT_START, 1 / 12, len(FIT_TURB))
X_RIGHT = [2007.49, 2018.99]

BLUE = "#0000ff"
GREEN = "#00ff00"
CYAN = "#00e5ff"
PANEL = "#c6d9f0"

fig = go.Figure()

# SST panel
fig.add_trace(go.Scatter(x=sst_t, y=sst_v, mode="lines", name="AGL buoy data",
                         line=dict(color=BLUE, width=1.7), xaxis="x", yaxis="y", legend="legend"))
fig.add_trace(go.Scatter(x=sstc_t, y=sstc_v, mode="markers", name="CTD data",
                         marker=dict(color=GREEN, size=13, line=dict(width=0)),
                         xaxis="x", yaxis="y", legend="legend"))

# SSS panel
fig.add_trace(go.Scatter(x=sss_t, y=SSS_BUOY, mode="lines", name="AGL buoy data",
                         line=dict(color=BLUE, width=1.7), xaxis="x2", yaxis="y2", legend="legend2"))
fig.add_trace(go.Scatter(x=sssc_t, y=sssc_v, mode="markers", name="CTD data",
                         marker=dict(color=GREEN, size=13, line=dict(width=0)),
                         xaxis="x2", yaxis="y2", legend="legend2"))
fig.add_trace(go.Scatter(x=[None], y=[None], mode="lines+markers", name="Laboratory determination",
                         line=dict(color="#7fc3e6", width=2),
                         marker=dict(symbol="diamond", color=CYAN, size=18, line=dict(color="#1aa3c8", width=1)),
                         xaxis="x2", yaxis="y2", legend="legend2"))
fig.add_trace(go.Scatter(x=sssl_t, y=sssl_v, mode="markers", showlegend=False,
                         marker=dict(symbol="diamond", color=CYAN, size=18, line=dict(color="#1aa3c8", width=1)),
                         xaxis="x2", yaxis="y2"))

# turbulent fluxes
fig.add_trace(go.Scatter(x=flux_t, y=LATENT, mode="lines", showlegend=False,
                         line=dict(color="black", width=2.6), xaxis="x3", yaxis="y3"))
fig.add_trace(go.Scatter(x=flux_t, y=SENSIBLE, mode="lines", showlegend=False,
                         line=dict(color="#6d9cf0", width=2.0), xaxis="x3", yaxis="y3"))
fig.add_trace(go.Scatter(x=fit_t, y=FIT_TURB, mode="lines", showlegend=False, line_shape="spline",
                         line=dict(color="#ff0000", width=5), xaxis="x3", yaxis="y3"))

# net heat flux
fig.add_trace(go.Scatter(x=flux_t, y=NET_Q0, mode="lines", showlegend=False,
                         line=dict(color="black", width=2.6), xaxis="x4", yaxis="y4"))
fig.add_trace(go.Scatter(x=X_RIGHT, y=ZERO_LINE, mode="lines", showlegend=False,
                         line=dict(color="#ababab", width=8), xaxis="x4", yaxis="y4"))
fig.add_trace(go.Scatter(x=fit_t, y=FIT_Q0, mode="lines", showlegend=False, line_shape="spline",
                         line=dict(color="#ff0000", width=5), xaxis="x4", yaxis="y4"))

# ------------------------------------------------------------------ axes
LEFT_FONT = dict(family="Liberation Sans, Arial, sans-serif", size=19, color="#505050")
RIGHT_FONT = dict(family="Liberation Serif, Times New Roman, serif", size=34, color="black")


def left_x(dom_px, anchor):
    return dict(domain=[fx(dom_px[0]), fx(dom_px[1])], anchor=anchor, range=[2007.0, 2019.917],
                tickmode="array", tickvals=DEC_TICKS, ticktext=DEC_LABELS,
                ticks="inside", ticklen=17, tickwidth=1.5, tickcolor="#6a6a6a",
                showline=True, linecolor="#8c8c8c", linewidth=2, mirror="ticks",
                showgrid=False, zeroline=False, tickfont=LEFT_FONT, ticklabelstandoff=6)


def left_y(dom_px, anchor, rng, tv, tt):
    return dict(domain=[fy(dom_px[1]), fy(dom_px[0])], anchor=anchor, range=rng,
                tickmode="array", tickvals=tv, ticktext=tt,
                ticks="inside", ticklen=14, tickwidth=1.5, tickcolor="#6a6a6a",
                showline=True, linecolor="#8c8c8c", linewidth=2, mirror="ticks",
                showgrid=False, zeroline=False, tickfont=LEFT_FONT, ticklabelstandoff=4)


def right_x(dom_px, anchor, labels):
    return dict(domain=[fx(dom_px[0]), fx(dom_px[1])], anchor=anchor, range=X_RIGHT,
                tickmode="array", tickvals=YEAR_TICKS, ticktext=[str(v) for v in YEAR_TICKS],
                showticklabels=labels,
                ticks="inside", ticklen=13, tickwidth=1.5, tickcolor="#333333",
                showline=True, linecolor="#444444", linewidth=2, mirror="ticks",
                showgrid=False, zeroline=False, tickfont=RIGHT_FONT, ticklabelstandoff=8)


def right_y(dom_px, anchor, rng, tv):
    return dict(domain=[fy(dom_px[1]), fy(dom_px[0])], anchor=anchor, range=rng,
                tickmode="array", tickvals=tv, ticktext=[str(v) for v in tv],
                ticks="inside", ticklen=13, tickwidth=1.5, tickcolor="#333333",
                showline=True, linecolor="#444444", linewidth=2, mirror="ticks",
                showgrid=False, zeroline=False, tickfont=RIGHT_FONT, ticklabelstandoff=4)


LX = (224, 1980)
RX = (2248, 3666)

layout = dict(
    width=W, height=H, margin=dict(l=0, r=0, t=0, b=0),
    paper_bgcolor="white", plot_bgcolor="white",
    xaxis=left_x(LX, "y"), yaxis=left_y((171, 561), "x", [10, 24], SST_TICKS, [str(v) for v in SST_TICKS]),
    xaxis2=left_x(LX, "y2"), yaxis2=left_y((713, 1103), "x2", [34, 36.2], SSS_TICKS, SSS_TICK_TEXT),
    xaxis3=right_x(RX, "y3", False), yaxis3=right_y((174, 477), "x3", [-25, 350], FLUX_TICKS),
    xaxis4=right_x(RX, "y4", True), yaxis4=right_y((535, 841), "x4", [-450, 250], Q0_TICKS),
    legend=dict(x=fx(276), y=fy(467), xanchor="left", yanchor="top", bgcolor="rgba(0,0,0,0)",
                borderwidth=0, tracegroupgap=0, itemwidth=40,
                font=dict(family="Liberation Sans, Arial, sans-serif", size=24, color="#262626")),
    legend2=dict(x=fx(276), y=fy(966), xanchor="left", yanchor="top", bgcolor="rgba(0,0,0,0)",
                 borderwidth=0, tracegroupgap=0, itemwidth=40,
                 font=dict(family="Liberation Sans, Arial, sans-serif", size=27, color="#262626")),
    showlegend=True,
)
fig.update_layout(**layout)

# ------------------------------------------------------------------ frame & header boxes
L, RR, T, B, R = 73.5, 3800.0, 41.5, 1473.0, 246.0
K = 0.5523 * R


def P(x, y):
    return f"{x / W:.6f},{1 - y / H:.6f}"


frame = (f"M {P(L, T + R)} C {P(L, T + R - K)} {P(L + R - K, T)} {P(L + R, T)} "
         f"L {P(RR - R, T)} C {P(RR - R + K, T)} {P(RR, T + R - K)} {P(RR, T + R)} "
         f"L {P(RR, B - R)} C {P(RR, B - R + K)} {P(RR - R + K, B)} {P(RR - R, B)} "
         f"L {P(L + R, B)} C {P(L + R - K, B)} {P(L, B - R + K)} {P(L, B - R)} Z")

shapes = [
    dict(type="path", path=frame, xref="paper", yref="paper", line=dict(color=PANEL, width=21),
         fillcolor="rgba(0,0,0,0)", layer="below"),
    dict(type="rect", xref="paper", yref="paper", x0=fx(274), x1=fx(1890), y0=fy(115), y1=fy(6),
         fillcolor=PANEL, line=dict(width=0), layer="below"),
    dict(type="rect", xref="paper", yref="paper", x0=fx(2385), x1=fx(3344), y0=fy(116), y1=fy(7),
         fillcolor=PANEL, line=dict(width=0), layer="below"),
]
fig.update_layout(shapes=shapes)

# ------------------------------------------------------------------ annotations
TXT = "Lato, Open Sans, sans-serif"
ann = [
    dict(text="<b>" + TITLE_LEFT + "</b>", x=fx(1082), y=fy(60), font=dict(family=TXT, size=69, color="black")),
    dict(text="<b>" + TITLE_RIGHT + "</b>", x=fx(2864), y=fy(60), font=dict(family=TXT, size=69, color="black")),
    dict(text="SST (°C)", x=fx(181), y=fy(366), textangle=-90,
         font=dict(family="Liberation Sans, Arial, sans-serif", size=21, color="#505050")),
    dict(text="SSS", x=fx(163), y=fy(908), textangle=-90,
         font=dict(family="Liberation Sans, Arial, sans-serif", size=21, color="#505050")),
    dict(text="-Q<sub>E</sub>, -Q<sub>H</sub> (Wm<sup>-2</sup>)", x=fx(2128), y=fy(326), textangle=-90,
         font=dict(family="Liberation Serif, Times New Roman, serif", size=35, color="black")),
    dict(text="Q<sub>0</sub> (Wm<sup>-2</sup>)", x=fx(2132), y=fy(688), textangle=-90,
         font=dict(family="Liberation Serif, Times New Roman, serif", size=35, color="black")),
]
for i, line in enumerate(TEXT_LEFT):
    ann.append(dict(text=line, x=fx(1083), y=fy([1249, 1334][i]),
                    font=dict(family=TXT, size=64, color="black")))
for i, line in enumerate(TEXT_RIGHT):
    ann.append(dict(text=line, x=fx(2924), y=fy([977, 1065, 1155, 1245, 1334][i]),
                    font=dict(family=TXT, size=64, color="black")))
for a in ann:
    a.update(xref="paper", yref="paper", showarrow=False, xanchor="center", yanchor="middle")
fig.update_layout(annotations=ann)

fig.write_html("out.html", config={"displayModeBar": False},
               post_script="document.body.style.margin='0';document.body.style.overflow='hidden';")
